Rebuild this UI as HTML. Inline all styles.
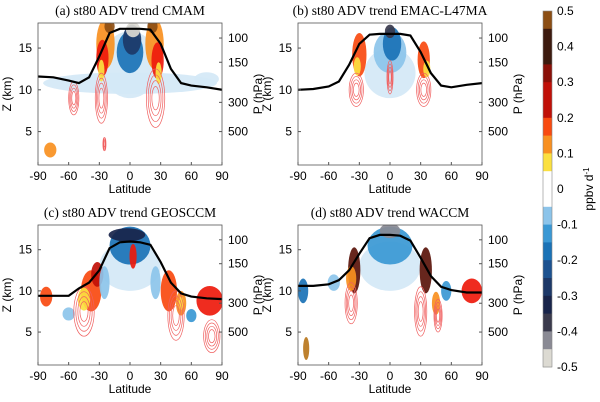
<!DOCTYPE html>
<html><head><meta charset="utf-8"><style>
html,body{margin:0;padding:0;background:#fff;}
svg{display:block;font-family:"Liberation Sans",sans-serif;}
.ttl{font-family:"Liberation Serif",serif;font-size:13.5px;}
.tk{font-size:12px;}
</style></head><body>
<svg id="fig" width="600" height="402" viewBox="0 0 600 402"></svg>
<script>
const latTicks=[-90,-60,-30,0,30,60,90];
const zTicks=[5,10,15];
const pTicks=[100,150,300,500];
const pTickZ=[16.2,13.3,8.5,5.0];
const tpLat=[-90,-75,-60,-50,-40,-30,-20,-10,0,10,20,30,40,50,60,75,90];
const tpA=[11.6,11.5,11.1,10.8,11.5,14,16.8,17.3,17.3,17.3,17.2,15.5,12.5,10.8,10.5,10.3,10.0];
const tpB=[10,10.1,10.4,11,13,15.5,16.6,16.7,16.7,16.7,16.5,14.5,12,10.5,10.3,10.6,10.8];
const tpC=[9.4,9.4,9.4,10.3,11,12.5,15.2,15.9,16,15.9,15.6,13.5,11,9.7,9.3,9.1,9.0];
const tpD=[10.6,10.6,10.8,11.3,12.5,14.5,16.4,16.8,16.8,16.7,16.1,14,11.8,10.5,10.1,9.8,9.8];
// blobs: lat, z, half-width(deg), half-height(km), value
const blobA=[[0,10.8,85,1.3,-0.05],[0,13,28,4,-0.05],[0,14.5,13,2.5,-0.18],[2,16,9,1.8,-0.32],[3,17.2,7,0.9,-0.48],[-24,15.5,9,3,0.12],[24,15.5,9,3,0.12],[-27,13.8,6,2.2,0.22],[27,13.5,6,2.2,0.22],[-28,12.3,3,1.3,0.07],[28,12,3,1.3,0.07],[-20,17.6,5,0.8,0.45],[22,17.6,5,0.8,0.45],[75,11.3,12,0.8,-0.06],[-78,2.8,6,0.9,0.12]];
const blobB=[[0,12,25,3,-0.04],[0,14.5,16,2.5,-0.12],[2,15.5,9,2,-0.2],[0,17,5,0.8,-0.4],[-30,14.2,7,2.6,0.17],[33,13.6,6,2.2,0.17],[-32,12.8,3.5,1.1,0.07],[36,12.5,3.5,1,0.07]];
const blobC=[[0,13,30,3,-0.04],[0,15.5,20,2.3,-0.18],[-3,16.8,18,0.8,-0.35],[3,14.2,3.5,1.5,0.2],[-38,10,10,2.5,0.17],[-45,9,6,1.4,0.07],[-32,12,6,1.5,0.25],[38,10,8,2.5,0.17],[50,8.5,5,1.5,0.12],[50,8.5,2.5,0.8,0.07],[78,8.8,13,1.8,0.22],[-82,9.3,6,1.2,0.15],[60,7,5,0.8,-0.15],[-60,7.2,6,0.8,-0.12],[-25,11,5,2,-0.1],[25,11,5,2,-0.1]];
const blobD=[[0,13,30,3,-0.04],[0,15.5,22,2.3,-0.14],[0,17.3,10,0.9,-0.45],[-35,12.5,6,2.8,0.35],[-38,11.5,5,1.5,0.1],[35,12.5,6,2.8,0.35],[45,8.5,4,1.4,0.1],[-85,10,5,1.5,-0.18],[-55,11,6,1,-0.1],[80,10,10,1.5,0.18],[55,10,5,1.2,-0.15],[-82,3,3,1.4,0.48]];
const contA=[[-28,9,6,3],[25,9,9,3.5],[-55,9,5,2],[-25,3.5,1.5,0.8]];
const contB=[[-33,10,7,2],[33,10,7,2],[0,11.5,3,2]];
const contC=[[-45,7.5,10,3],[45,7,8,3],[80,4.5,8,2]];
const contD=[[-38,8.5,6,2.5],[30,7.5,6,3],[47,7,4,2]];
const cbVals=[0.5,0.4,0.3,0.2,0.1,0,-0.1,-0.2,-0.3,-0.4,-0.5];
const stops=[[0.5,'#b8761c'],[0.45,'#8c4e14'],[0.4,'#3c1a0e'],[0.35,'#5a140a'],[0.3,'#8a1008'],[0.25,'#c01008'],[0.2,'#ee1a0c'],[0.15,'#f84a10'],[0.1,'#f89020'],[0.05,'#fbe040'],[0.02,'#ffffff'],[-0.02,'#ffffff'],[-0.05,'#d4e8f6'],[-0.1,'#8cc4ea'],[-0.15,'#3a98d4'],[-0.2,'#1a72b6'],[-0.25,'#1c5290'],[-0.3,'#1c3868'],[-0.35,'#18244a'],[-0.4,'#3a3a4c'],[-0.45,'#8a8a94'],[-0.5,'#dcdad2']];
const NS='http://www.w3.org/2000/svg';
const svg=document.getElementById('fig');
function mk(t,a,p){const e=document.createElementNS(NS,t);for(const k in a)e.setAttribute(k,a[k]);(p||svg).appendChild(e);return e;}
function col(v){let best=stops[0];for(const s of stops){if(Math.abs(s[0]-v)<Math.abs(best[0]-v))best=s;}return best[1];}
const panels=[
 {x0:38,x1:222,y0:23,y1:165,title:'(a) st80 ADV trend CMAM',tp:tpA,bl:blobA,ct:contA,n:'a'},
 {x0:298,x1:482,y0:23,y1:165,title:'(b) st80 ADV trend EMAC-L47MA',tp:tpB,bl:blobB,ct:contB,n:'b'},
 {x0:38,x1:222,y0:225,y1:365,title:'(c) st80 ADV trend GEOSCCM',tp:tpC,bl:blobC,ct:contC,n:'c'},
 {x0:298,x1:482,y0:225,y1:365,title:'(d) st80 ADV trend WACCM',tp:tpD,bl:blobD,ct:contD,n:'d'}];
panels.forEach(P=>{
 const g=mk('g',{});
 
 
 const xs=l=>P.x0+(l+90)/180*(P.x1-P.x0);
 const zs=z=>P.y1-(z-1)/17*(P.y1-P.y0);
 const cp='cp'+P.n;
 const cl=mk('clipPath',{id:cp},g);mk('rect',{x:P.x0,y:P.y0,width:P.x1-P.x0,height:P.y1-P.y0},cl);
 const pg=mk('g',{'clip-path':'url(#'+cp+')'},g);
 P.bl.forEach(b=>{const e=mk('ellipse',{cx:xs(b[0]),cy:zs(b[1]),rx:b[2]/180*(P.x1-P.x0),ry:b[3]/17*(P.y1-P.y0),fill:col(b[4]),opacity:0.92},pg);
  });
 P.ct.forEach(c=>{for(let k=0;k<4;k++){const e=mk('ellipse',{cx:xs(c[0]),cy:zs(c[1]),rx:c[2]*(1-k*0.2)/180*(P.x1-P.x0),ry:c[3]*(1-k*0.2)/17*(P.y1-P.y0),fill:'none',stroke:'#f06060','stroke-width':0.7},pg);
  }});
 let d='';P.tp.forEach((z,i)=>{d+=(i?'L':'M')+xs(tpLat[i]).toFixed(1)+','+zs(z).toFixed(1);});
 const tl=mk('path',{d:d,fill:'none',stroke:'#000','stroke-width':2.2},pg);
 
 const fr=mk('rect',{x:P.x0,y:P.y0,width:P.x1-P.x0,height:P.y1-P.y0,fill:'none',stroke:'#555','stroke-width':0.8},g);
 
 const t=mk('text',{x:(P.x0+P.x1)/2,y:P.y0-8,'text-anchor':'middle',class:'ttl'},g);t.textContent=P.title;
 
 latTicks.forEach(l=>{mk('line',{x1:xs(l),x2:xs(l),y1:P.y1,y2:P.y1-3,stroke:'#555'},g);
  const e=mk('text',{x:xs(l),y:P.y1+15,'text-anchor':'middle',class:'tk'},g);e.textContent=l;
  });
 zTicks.forEach(z=>{mk('line',{x1:P.x0,x2:P.x0+3,y1:zs(z),y2:zs(z),stroke:'#555'},g);
  const e=mk('text',{x:P.x0-6,y:zs(z)+4,'text-anchor':'end',class:'tk'},g);e.textContent=z;
  });
 pTicks.forEach((p,i)=>{mk('line',{x1:P.x1,x2:P.x1-3,y1:zs(pTickZ[i]),y2:zs(pTickZ[i]),stroke:'#555'},g);
  const e=mk('text',{x:P.x1+6,y:zs(pTickZ[i])+4,class:'tk'},g);e.textContent=p;
  });
 const xl=mk('text',{x:(P.x0+P.x1)/2,y:P.y1+28,'text-anchor':'middle',class:'tk'},g);xl.textContent='Latitude';
 
 const zy=(P.y0+P.y1)/2;
 const yx=P.x0-27;
 const yl=mk('text',{x:yx,y:zy,'text-anchor':'middle',class:'tk',transform:'rotate(-90 '+yx+' '+zy+')'},g);yl.textContent='Z (km)';
 
 const px=P.x1+40;
 const pl=mk('text',{x:px,y:zy,'text-anchor':'middle',class:'tk',transform:'rotate(-90 '+px+' '+zy+')'},g);pl.textContent='P (hPa)';
 
});
const cb=mk('g',{});


const cy0=11,cy1=367,cx=543,cw=9;
const ys=v=>cy0+(0.5-v)/1.0*(cy1-cy0);
for(let i=0;i<20;i++){const v=0.5-i*0.05;mk('rect',{x:cx,y:ys(v),width:cw,height:(cy1-cy0)/20+0.5,fill:col(v-0.025)},cb);}
mk('rect',{x:cx,y:cy0,width:cw,height:cy1-cy0,fill:'none',stroke:'#888','stroke-width':0.6},cb);
cbVals.forEach(v=>{const e=mk('text',{x:cx+14,y:ys(v)+4,class:'tk'},cb);e.textContent=(Math.abs(v)<1e-9?'0':String(v));
 });
const ul=mk('text',{x:593,y:189,'text-anchor':'middle',class:'tk',transform:'rotate(-90 593 189)'},cb);
ul.innerHTML='ppbv d<tspan dy="-4" font-size="8">-1</tspan>';

</script>
</body></html>
